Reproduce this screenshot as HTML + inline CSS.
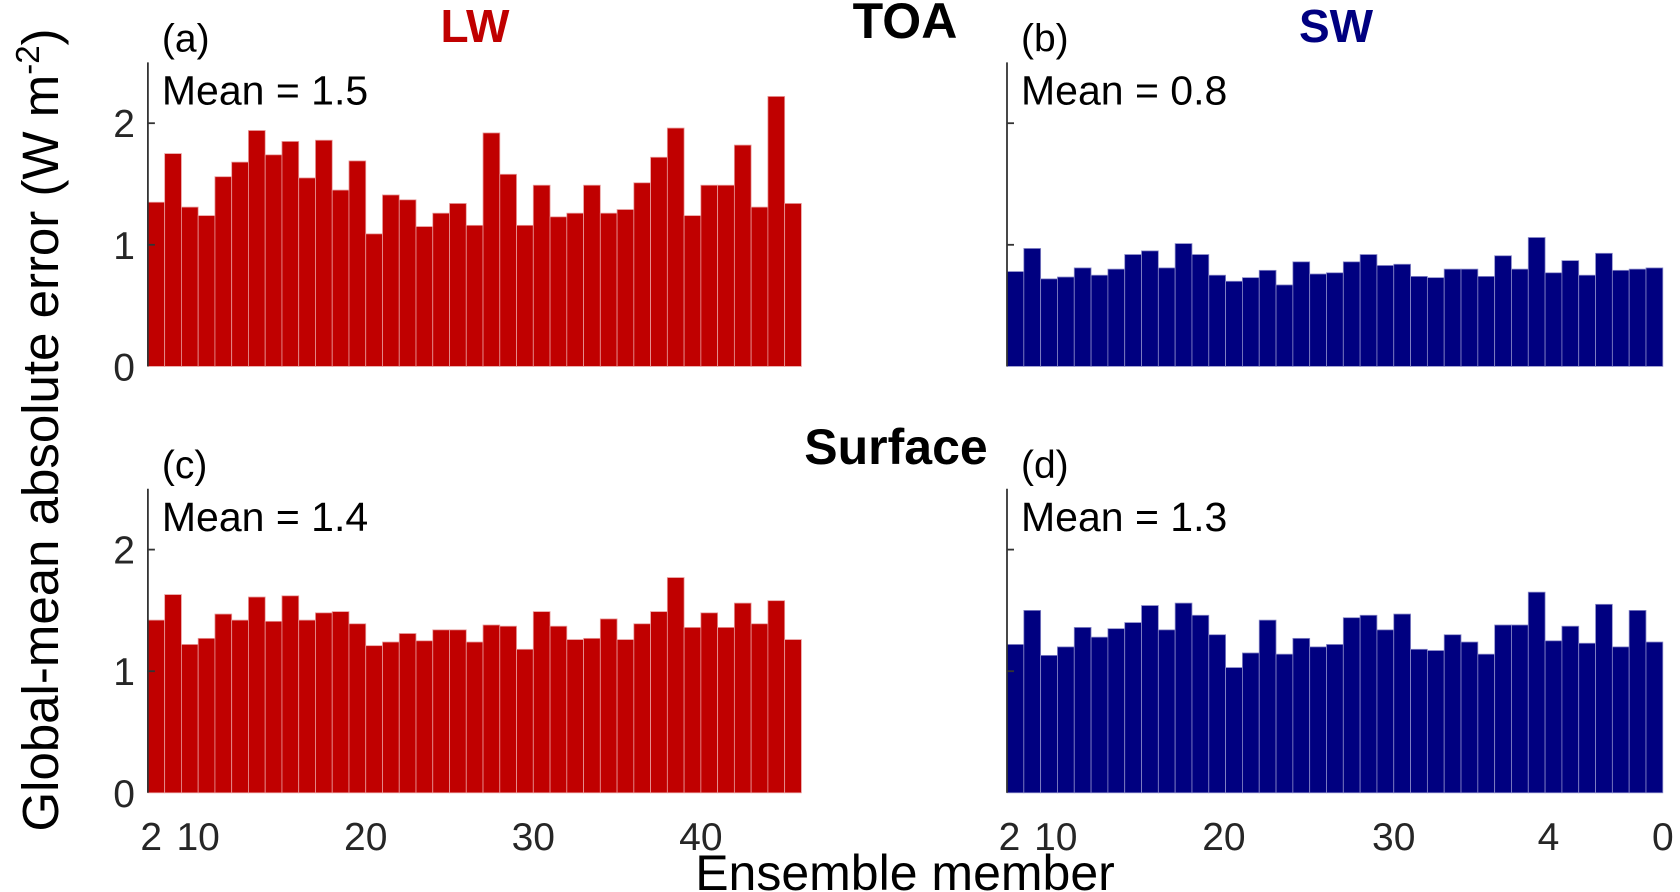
<!DOCTYPE html>
<html><head><meta charset="utf-8"><style>
html,body{margin:0;padding:0;background:#fff;}
svg{display:block;font-family:"Liberation Sans",Arial,sans-serif;}
</style></head><body>
<svg id="fig" width="1680" height="892" viewBox="0 0 1680 892"></svg>
<script>
const members = Array.from({length:39},(_,i)=>i+1);
const lwToa = [1.35,1.75,1.31,1.24,1.56,1.68,1.94,1.74,1.85,1.55,1.86,1.45,1.69,1.09,1.41,1.37,1.15,1.26,1.34,1.16,1.92,1.58,1.16,1.49,1.23,1.26,1.49,1.26,1.29,1.51,1.72,1.96,1.24,1.49,1.49,1.82,1.31,2.22,1.34];
const swToa = [0.78,0.97,0.72,0.735,0.81,0.75,0.80,0.92,0.95,0.81,1.01,0.92,0.75,0.70,0.73,0.79,0.67,0.86,0.76,0.77,0.86,0.92,0.83,0.84,0.74,0.73,0.80,0.80,0.74,0.91,0.80,1.06,0.77,0.87,0.75,0.93,0.79,0.80,0.81];
const lwSfc = [1.42,1.63,1.22,1.27,1.47,1.42,1.61,1.41,1.62,1.42,1.48,1.49,1.39,1.21,1.24,1.31,1.25,1.34,1.34,1.24,1.38,1.37,1.18,1.49,1.37,1.26,1.27,1.43,1.26,1.39,1.49,1.77,1.36,1.48,1.36,1.56,1.39,1.58,1.26];
const swSfc = [1.22,1.50,1.13,1.20,1.36,1.28,1.35,1.40,1.54,1.34,1.56,1.46,1.30,1.03,1.15,1.42,1.14,1.27,1.20,1.22,1.44,1.46,1.34,1.47,1.18,1.17,1.30,1.24,1.14,1.38,1.38,1.65,1.25,1.37,1.23,1.55,1.20,1.50,1.24];
const yTicks = [0,1,2];
const xTickPosLeft = [0.2,3,13,23,33];
const xTickLabelsLeft = ["2","10","20","30","40"];
const xTickPosRight = [0.15,2.9,12.9,23,32.2,39];
const xTickLabelsRight = ["2","10","20","30","4","0"];
const means = ["Mean = 1.5","Mean = 0.8","Mean = 1.4","Mean = 1.3"];

const NS="http://www.w3.org/2000/svg";
const svg=document.getElementById('fig');
function mk(tag,attrs,parent){const e=document.createElementNS(NS,tag);for(const k in attrs)e.setAttribute(k,attrs[k]);(parent||svg).appendChild(e);return e;}
function txt(s,attrs,parent){const e=mk('text',attrs,parent);e.textContent=s;return e;}

const panels=[
 {id:'a',x0:147.9,x1:801.4,y0:366.4,data:lwToa,color:'#c00000',edge:'#e89a9a',labels:true,mean:means[0],tp:xTickPosLeft,tl:xTickLabelsLeft,row:0},
 {id:'b',x0:1007,x1:1662.8,y0:366.4,data:swToa,color:'#000080',edge:'#8a8ac8',labels:false,mean:means[1],tp:xTickPosRight,tl:xTickLabelsRight,row:0},
 {id:'c',x0:147.9,x1:801.4,y0:792.8,data:lwSfc,color:'#c00000',edge:'#e89a9a',labels:true,mean:means[2],tp:xTickPosLeft,tl:xTickLabelsLeft,row:1},
 {id:'d',x0:1007,x1:1662.8,y0:792.8,data:swSfc,color:'#000080',edge:'#8a8ac8',labels:false,mean:means[3],tp:xTickPosRight,tl:xTickLabelsRight,row:1},
];
const unit=121.6;
panels.forEach(p=>{
  const g=mk('g',{});
  
  
  const n=members.length;
  const bw=(p.x1-p.x0)/n;
  const xs=i=>p.x0+i*bw;
  const ys=v=>p.y0-v*unit;
  p.data.forEach((v,i)=>{
    const r=mk('rect',{x:xs(i),y:ys(v),width:bw,height:p.y0-ys(v),fill:p.color,stroke:p.edge,'stroke-width':0.8},g);
    
    
  });
  const ax=mk('line',{x1:p.x0,x2:p.x0,y1:ys(2.5),y2:p.y0,stroke:'#333','stroke-width':1.8},g);
  
  
  yTicks.forEach(t=>{
    if(t>0) mk('line',{x1:p.x0,x2:p.x0+7,y1:ys(t),y2:ys(t),stroke:'#333','stroke-width':1.8},g);
    if(p.labels){
      const l=txt(String(t),{x:p.x0-13,y:ys(t)+14,'text-anchor':'end','font-size':39,fill:'#262626'},g);
      
      
    }
  });
  if(p.row===1){
    p.tp.forEach((t,i)=>{
      const l=txt(p.tl[i],{x:p.x0+t*bw,y:850,'text-anchor':'middle','font-size':39,fill:'#262626'},g);
      
      
    });
  }
  const m=txt(p.mean,{x:p.x0+14,y:ys(2.5)+42,'font-size':41,fill:'#000'},g);
  
  
  const pl=txt('('+p.id+')',{x:p.x0+14,y:ys(2.5)-11,'font-size':39,fill:'#000'},g);
  
  
});
</script>
<svg style="position:absolute;left:0;top:0" width="1680" height="892" viewBox="0 0 1680 892">
  <text x="475" y="42" text-anchor="middle" font-size="46" font-weight="bold" fill="#c00000">LW</text>
  <text x="1336" y="42" text-anchor="middle" font-size="46" font-weight="bold" fill="#000080">SW</text>
  <text x="905" y="38" text-anchor="middle" font-size="50" font-weight="bold" fill="#000">TOA</text>
  <text x="896" y="464" text-anchor="middle" font-size="50" font-weight="bold" fill="#000">Surface</text>
  <text x="905" y="890" text-anchor="middle" font-size="50" fill="#000">Ensemble member</text>
  <text transform="translate(58,430) rotate(-90)" text-anchor="middle" font-size="51" fill="#000">Global-mean absolute error (W m<tspan dy="-19" font-size="33">-2</tspan><tspan dy="19">)</tspan></text>
</svg>
</body></html>
